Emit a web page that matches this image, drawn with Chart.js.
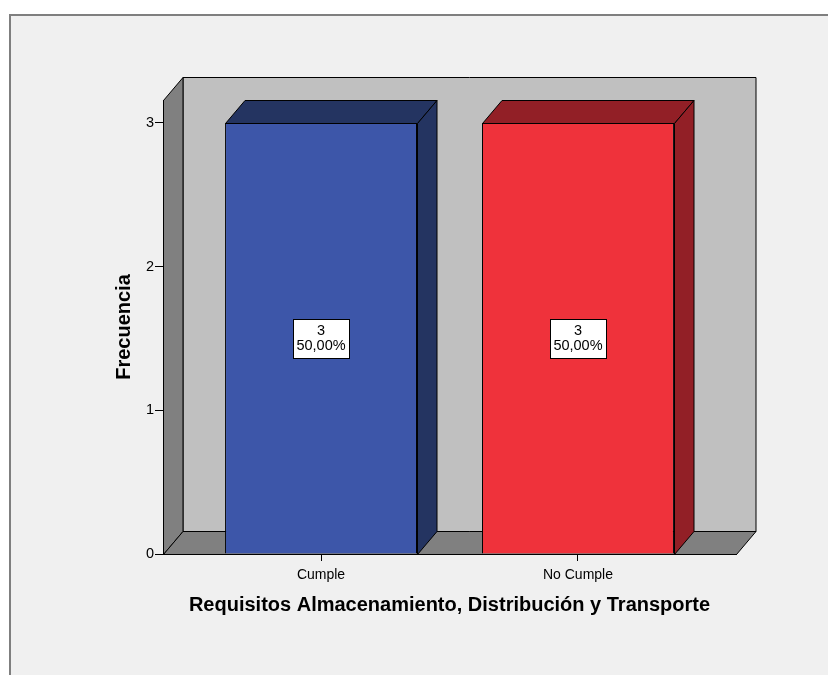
<!DOCTYPE html>
<html>
<head>
<meta charset="utf-8">
<script src="https://cdn.jsdelivr.net/npm/chart.js@4/dist/chart.umd.min.js"></script>
<style>
  html, body { margin: 0; padding: 0; background: #ffffff; }
  canvas { display: block; }
</style>
</head>
<body>
<canvas id="chart" width="828" height="675"></canvas>
<script>
// Categories and values of the frequency chart
const categories = ['Cumple', 'No Cumple'];
const frequencies = [3, 3];
const percentLabels = ['50,00%', '50,00%'];
const xTitle = 'Requisitos Almacenamiento, Distribución y Transporte';
const yTitle = 'Frecuencia';

const FONT = "'Liberation Sans', Arial, sans-serif";

// Depth of the 3D box and bars (pixels to the right / up)
const DEPTH_X = 19.5;
const DEPTH_Y = 23;

const frontColors = ['#3d56a9', '#ef323b'];
const sideColors = ['#243461', '#921f26'];

function poly(ctx, pts, fill) {
  ctx.beginPath();
  ctx.moveTo(pts[0][0], pts[0][1]);
  for (let i = 1; i < pts.length; i++) ctx.lineTo(pts[i][0], pts[i][1]);
  ctx.closePath();
  ctx.fillStyle = fill;
  ctx.fill();
  ctx.lineWidth = 1;
  ctx.strokeStyle = '#000000';
  ctx.stroke();
}

// Frame, panel background and the walls/floor of the 3D box
const boxPlugin = {
  id: 'box3d',
  beforeDraw(chart) {
    const ctx = chart.ctx;
    const { left, right, top, bottom } = chart.chartArea;
    ctx.save();
    ctx.fillStyle = '#ffffff';
    ctx.fillRect(0, 0, chart.width, chart.height);
    ctx.fillStyle = '#f0f0f0';
    ctx.fillRect(9, 14, chart.width, chart.height);
    ctx.strokeStyle = '#7f7f7f';
    ctx.lineWidth = 2;
    ctx.beginPath();
    ctx.moveTo(10, chart.height + 2);
    ctx.lineTo(10, 15);
    ctx.lineTo(chart.width + 2, 15);
    ctx.stroke();

    const L = left + 0.5, R = right + 0.5, T = top + 0.5, B = bottom + 0.5;
    // back wall
    poly(ctx, [[L + DEPTH_X, T - DEPTH_Y], [R + DEPTH_X, T - DEPTH_Y], [R + DEPTH_X, B - DEPTH_Y], [L + DEPTH_X, B - DEPTH_Y]], '#c0c0c0');
    // left side wall
    poly(ctx, [[L, T], [L + DEPTH_X, T - DEPTH_Y], [L + DEPTH_X, B - DEPTH_Y], [L, B]], '#808080');
    // floor
    poly(ctx, [[L, B], [L + DEPTH_X, B - DEPTH_Y], [R + DEPTH_X, B - DEPTH_Y], [R, B]], '#808080');
    ctx.restore();
  },
  afterDatasetsDraw(chart) {
    const ctx = chart.ctx;
    const meta = chart.getDatasetMeta(0);
    const yScale = chart.scales.y;
    ctx.save();
    meta.data.forEach((bar, i) => {
      const half = bar.width / 2;
      const x0 = Math.round(bar.x - half) + 0.5;
      const x1 = Math.round(bar.x + half) + 0.5;
      const t = Math.round(bar.y) + 0.5;
      const b = Math.round(bar.base) + 0.5;
      // top face
      poly(ctx, [[x0, t], [x0 + DEPTH_X, t - DEPTH_Y], [x1 + DEPTH_X, t - DEPTH_Y], [x1, t]], sideColors[i]);
      // right face
      poly(ctx, [[x1, t], [x1 + DEPTH_X, t - DEPTH_Y], [x1 + DEPTH_X, b - DEPTH_Y], [x1, b]], sideColors[i]);

      // value label box in the middle of the bar
      const v = frequencies[i];
      const cy = yScale.getPixelForValue(v / 2);
      const cx = bar.x;
      const bw = 56, bh = 39;
      ctx.fillStyle = '#ffffff';
      ctx.fillRect(Math.round(cx - bw / 2) + 0.5, Math.round(cy - bh / 2) + 0.5, bw, bh);
      ctx.strokeStyle = '#000000';
      ctx.lineWidth = 1;
      ctx.strokeRect(Math.round(cx - bw / 2) + 0.5, Math.round(cy - bh / 2) + 0.5, bw, bh);
      ctx.fillStyle = '#000000';
      ctx.font = '14.5px ' + FONT;
      ctx.textAlign = 'center';
      ctx.textBaseline = 'middle';
      ctx.fillText(String(v), cx, cy - 7);
      ctx.fillText(percentLabels[i], cx, cy + 8);
    });
    ctx.restore();
  }
};

new Chart(document.getElementById('chart'), {
  type: 'bar',
  data: {
    datasets: [{
      data: frequencies.map((v, i) => ({ x: i + 1, y: v })),
      backgroundColor: frontColors,
      borderColor: '#000000',
      borderWidth: 1,
      categoryPercentage: 1,
      barPercentage: 0.747
    }]
  },
  options: {
    responsive: false,
    devicePixelRatio: 1,
    animation: false,
    events: [],
    layout: { padding: { left: 0, right: 92, top: 100, bottom: 0 } },
    plugins: { legend: { display: false }, tooltip: { enabled: false } },
    scales: {
      x: {
        type: 'linear',
        offset: false,
        min: 0.385,
        max: 2.615,
        afterFit(scale) { scale.height = 121; },
        ticks: {
          stepSize: 1,
          includeBounds: false,
          autoSkip: false,
          maxRotation: 0,
          padding: 6,
          color: '#000000',
          font: { family: FONT, size: 14 },
          callback: (value) => categories[value - 1] ?? ''
        },
        grid: { offset: false, drawOnChartArea: false, drawTicks: true, tickLength: 7, color: '#000000' },
        border: { display: true, color: '#000000' },
        title: {
          display: true,
          text: xTitle,
          color: '#000000',
          font: { family: FONT, size: 20, weight: 'bold' },
          padding: { top: 0, bottom: 58 }
        }
      },
      y: {
        min: 0,
        max: 3.16,
        afterFit(scale) { scale.width = 163; },
        ticks: {
          stepSize: 1,
          includeBounds: false,
          padding: 1,
          color: '#000000',
          font: { family: FONT, size: 14.5 }
        },
        grid: { drawOnChartArea: false, drawTicks: true, tickLength: 8, color: '#000000' },
        border: { display: true, color: '#000000' },
        title: {
          display: true,
          text: yTitle,
          color: '#000000',
          font: { family: FONT, size: 20, weight: 'bold' },
          padding: { top: 112, bottom: 0 }
        }
      }
    }
  },
  plugins: [boxPlugin]
});
</script>
</body>
</html>
